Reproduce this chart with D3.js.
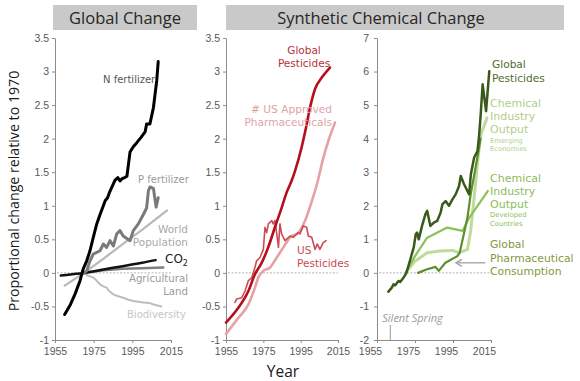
<!DOCTYPE html>
<html><head><meta charset="utf-8">
<script src="https://cdn.jsdelivr.net/npm/d3@7"></script>
<style>
body{margin:0;background:#fff;}
svg{display:block;}
text{font-family:"DejaVu Sans",sans-serif;}
</style></head>
<body><svg id="c" width="580" height="381"></svg>
<script>
// ---------- data ----------
const xTickYears = [1955, 1975, 1995, 2015];
const yTicksLeft = [-1, -0.5, 0, 0.5, 1, 1.5, 2, 2.5, 3, 3.5];
const yTicksRight = [-2, -1, 0, 1, 2, 3, 4, 5, 6, 7];
const panelTitles = ["Global Change", "Synthetic Chemical Change"];

// Global change panel: [year, proportional change]
const nFertilizer = [[1960,-0.62],[1963,-0.47],[1965.3,-0.32],[1967.9,-0.12],[1969.6,0.06],[1971.4,0.18],[1973.1,0.33],[1974.8,0.53],[1976.6,0.73],[1978.3,0.87],[1980,1.0],[1981,1.08],[1982.2,1.12],[1983.2,1.2],[1984.3,1.27],[1986,1.38],[1987.5,1.42],[1988.6,1.37],[1989.5,1.40],[1991,1.42],[1992.2,1.44],[1993.8,1.80],[1995.5,1.88],[1997.3,1.94],[1999.5,2.02],[2001.6,2.10],[2002.4,2.22],[2004.1,2.22],[2005.9,2.46],[2007.6,2.86],[2008.4,3.15]];
const pFertilizer = [[1970,0.0],[1971.4,0.03],[1973.1,0.18],[1974.8,0.28],[1978.3,0.33],[1980,0.43],[1981.7,0.38],[1983.5,0.48],[1985.2,0.40],[1986.9,0.58],[1988.6,0.63],[1990.3,0.55],[1993.8,0.48],[1995.5,0.63],[1998.1,0.73],[2000.7,0.87],[2002.4,0.97],[2003.3,1.22],[2004.1,1.28],[2005.9,1.26],[2007.3,0.98],[2008.4,1.12]];
const worldPopulation = [[1960,-0.19],[1970,0.0],[1980,0.21],[1990,0.43],[2000,0.64],[2013,0.93]];
const co2 = [[1958,-0.04],[1964,-0.02],[1970,0.0],[1980,0.05],[1990,0.1],[2000,0.15],[2007,0.19]];
const agriculturalLand = [[1970,0.0],[1980,0.04],[1990,0.06],[2000,0.07],[2011,0.08]];
const biodiversity = [[1970,0.0],[1972,-0.04],[1974.8,-0.07],[1976,-0.10],[1978.3,-0.17],[1980,-0.20],[1981.7,-0.22],[1983,-0.27],[1985.2,-0.32],[1987,-0.34],[1990.3,-0.37],[1993,-0.40],[1995.5,-0.42],[1998,-0.43],[2000.7,-0.44],[2004,-0.45],[2006,-0.47],[2010,-0.50]];

// Synthetic chemical change, middle panel
const globalPesticides = [[1955,-0.74],[1961.6,-0.52],[1967,-0.27],[1970.5,-0.02],[1974.1,0.15],[1977.6,0.38],[1981.2,0.68],[1984.8,0.97],[1987.5,1.20],[1990.1,1.37],[1992,1.52],[1995.5,1.87],[1997.9,2.17],[2000,2.46],[2002.7,2.74],[2006.3,2.91],[2010.7,3.06]];
const usApprovedPharma = [[1955,-0.91],[1961.6,-0.67],[1967,-0.47],[1970.5,-0.22],[1972.3,-0.07],[1975,0.03],[1978.6,0.08],[1982.2,0.23],[1985.7,0.38],[1989.3,0.53],[1993.8,0.60],[1997.4,0.78],[2001,1.07],[2004,1.35],[2007,1.70],[2010,1.98],[2013.4,2.24]];
const usPesticides = [[1959.8,-0.44],[1960.7,-0.39],[1963.4,-0.37],[1965.2,-0.27],[1966.9,-0.12],[1968.8,-0.07],[1970.5,0.08],[1971.4,0.18],[1973.2,0.23],[1975,0.35],[1975.9,0.68],[1976.8,0.60],[1977.7,0.73],[1979.5,0.78],[1980.3,0.73],[1981.2,0.78],[1982.2,0.58],[1983.1,0.38],[1983.9,0.73],[1984.8,0.58],[1986.6,0.48],[1989.3,0.55],[1991,0.53],[1993.7,0.60],[1994.6,0.58],[1996.4,0.70],[1998.2,0.68],[1999.1,0.55],[2000.9,0.53],[2002.7,0.35],[2003.9,0.43],[2005.3,0.35],[2007.1,0.45],[2008.6,0.48]];

// Synthetic chemical change, right panel
const globalPesticidesR = [[1961,-0.56],[1962.8,-0.44],[1963.7,-0.34],[1964.6,-0.37],[1966.3,-0.24],[1967.2,-0.27],[1969,-0.14],[1970.5,0.0],[1972.5,0.4],[1974.3,0.75],[1975.4,1.15],[1976.1,1.2],[1977,1.0],[1978.7,1.4],[1980.5,1.75],[1981.4,1.85],[1983.1,1.4],[1984.9,1.5],[1986.7,1.55],[1988.5,1.8],[1989.4,2.04],[1991.1,2.14],[1992.9,2.0],[1994.7,2.19],[1996.4,2.34],[1998.2,2.59],[1999.1,2.89],[2000.8,2.64],[2003.5,2.34],[2004.4,2.94],[2006.1,3.43],[2007.9,3.63],[2008.8,4.13],[2009.7,4.82],[2010.6,5.62],[2012.4,4.82],[2014.1,6.01]];
const chemOutputEmerging = [[1970,0.0],[1975,0.35],[1981.4,0.6],[1988,0.65],[1994.7,0.67],[1998.2,0.6],[2002.6,0.7],[2004.3,1.25],[2006.1,2.24],[2008,3.33],[2009.7,4.13],[2012.9,4.62]];
const chemOutputDeveloped = [[1970,0.0],[1975,0.5],[1981.4,1.05],[1992,1.35],[2000,1.25],[2003.5,1.64],[2013.3,2.44]];
const pharmaConsumption = [[1976.6,0.0],[1981,0.1],[1985.8,0.18],[1987.5,0.06],[1991,0.3],[1997.3,0.5],[1998.5,0.6],[1999.9,0.95],[2002.6,1.64],[2004.3,2.34],[2006.1,2.9],[2008,3.5],[2009.5,4.0]];
const silentSpringYear = 1962;

// ---------- drawing ----------
const svg = d3.select("#c");
const axisColor = "#8c8c8c", tickText = "#595959";

const yL = d3.scaleLinear().domain([-1, 3.5]).range([340, 38]);
const yR = d3.scaleLinear().domain([-2, 7]).range([340, 38]);
const xL = d3.scaleLinear().domain([1955, 2015]).range([55, 171]);
const xM = d3.scaleLinear().domain([1955, 2015]).range([226, 338]);
const xR = d3.scaleLinear().domain([1955, 2015]).range([377, 491]);

// panel title boxes
svg.append("rect").attr("x",53).attr("y",5).attr("width",144).attr("height",25).attr("fill","#c9c9c9");
svg.append("rect").attr("x",226).attr("y",5).attr("width",338).attr("height",25).attr("fill","#c9c9c9");
svg.append("text").attr("x",125).attr("y",24).attr("text-anchor","middle")
  .style("font-family","'Open Sans',sans-serif").style("font-size","16.5px").attr("fill","#262626").text(panelTitles[0]);
svg.append("text").attr("x",381).attr("y",24).attr("text-anchor","middle")
  .style("font-family","'Open Sans',sans-serif").style("font-size","16.5px").attr("fill","#262626").text(panelTitles[1]);

function drawAxes(x, y, yTicks, pad, labelShift) {
  const gy = svg.append("g").attr("transform", `translate(${x.range()[0]},0)`)
    .call(d3.axisLeft(y).tickValues(yTicks).tickFormat(d => String(d)).tickSize(3).tickSizeOuter(0).tickPadding(pad));
  const gx = svg.append("g").attr("transform", `translate(0,${y.range()[0]})`)
    .call(d3.axisBottom(x).tickValues(xTickYears).tickFormat(d => String(d)).tickSize(3).tickSizeOuter(0).tickPadding(5));
  [gy, gx].forEach(g => {
    g.select(".domain").attr("stroke", axisColor);
    g.selectAll(".tick line").attr("stroke", axisColor);
    g.selectAll(".tick text").attr("fill", tickText).style("font-family","'Liberation Sans',Arial,sans-serif").style("font-size","10.5px");
  });
  gx.selectAll(".tick text").attr("dx", labelShift);
  // zero reference line
  svg.append("line").attr("x1", x.range()[0]+2).attr("x2", x.range()[1]).attr("y1", y(0)).attr("y2", y(0))
    .attr("stroke", "#b4b4b4").attr("stroke-width", 1).attr("stroke-dasharray", "2,1.5");
}
drawAxes(xL, yL, yTicksLeft, 3, 0);
drawAxes(xM, yL, yTicksLeft, 3, 0);
drawAxes(xR, yR, yTicksRight, 5, -7);

function drawLine(data, x, y, color, width, curve) {
  svg.append("path").datum(data)
    .attr("fill", "none").attr("stroke", color).attr("stroke-width", width)
    .attr("stroke-linejoin", "round").attr("stroke-linecap", "round")
    .attr("d", d3.line().x(d => x(d[0])).y(d => y(d[1])).curve(curve || d3.curveLinear));
}

// left panel
drawLine(biodiversity, xL, yL, "#bdbdbd", 2);
drawLine(worldPopulation, xL, yL, "#b8b8b8", 2.2);
drawLine(agriculturalLand, xL, yL, "#7f7f7f", 2.5);
drawLine(co2, xL, yL, "#111", 2.5, d3.curveMonotoneX);
drawLine(pFertilizer, xL, yL, "#7a7a7a", 3);
drawLine(nFertilizer, xL, yL, "#000", 3);

// middle panel
drawLine(usApprovedPharma, xM, yL, "#e6a1a3", 2.6, d3.curveMonotoneX);
drawLine(usPesticides, xM, yL, "#cc4a55", 1.6);
drawLine(globalPesticides, xM, yL, "#b50f1c", 2.6, d3.curveMonotoneX);

// right panel
drawLine(chemOutputEmerging, xR, yR, "#bddb9b", 3);
drawLine(chemOutputDeveloped, xR, yR, "#8cc05a", 2.2);
drawLine(pharmaConsumption, xR, yR, "#5e8f2c", 2.2);
drawLine(globalPesticidesR, xR, yR, "#3a5a1c", 2.5);

// Silent Spring marker
svg.append("line").attr("x1", xR(silentSpringYear)).attr("x2", xR(silentSpringYear))
  .attr("y1", yR(-1.55)).attr("y2", yR(-2)).attr("stroke", "#9a9a9a").attr("stroke-width", 1);
svg.append("text").attr("x", xR(silentSpringYear)-8).attr("y", 322)
  .style("font-family","'Open Sans',sans-serif").style("font-style","italic").style("font-size","11px")
  .attr("fill", "#9a9a9a").text("Silent Spring");

// arrow to pharmaceutical consumption
const ax1 = xR(2012), ax2 = xR(1996.5), ay = yR(0.3);
svg.append("line").attr("x1", ax1).attr("x2", ax2 + 2).attr("y1", ay).attr("y2", ay).attr("stroke", "#a0a0a0").attr("stroke-width", 1.3);
svg.append("path").attr("d", `M${ax2+6},${ay-3.5} L${ax2},${ay} L${ax2+6},${ay+3.5}`)
  .attr("fill", "none").attr("stroke", "#a0a0a0").attr("stroke-width", 1.3);

// labels
function label(lines, x, anchor, color, size) {
  lines.forEach(l => {
    svg.append("text").attr("x", x).attr("y", l[1]).attr("text-anchor", anchor)
      .attr("fill", color).style("font-size", (l[2] || size) + "px").text(l[0]);
  });
}
label([["N fertilizer",83]], 103, "start", "#555", 10);
label([["P fertilizer",183]], 138, "start", "#9a9a9a", 10);
label([["World",233],["Population",246]], 188, "end", "#a8a8a8", 10.5);
const co2t = svg.append("text").attr("x",165).attr("y",263).attr("fill","#1a1a1a").style("font-size","12px");
co2t.append("tspan").text("CO");
co2t.append("tspan").attr("dy",3).style("font-size","8px").text("2");
label([["Agricultural",282],["Land",294.5]], 188, "end", "#9a9a9a", 10.2);
label([["Biodiversity",318]], 127, "start", "#c6c6c6", 10);

label([["Global",54],["Pesticides",66.5]], 304, "middle", "#b4323c", 10.5);
label([["# US Approved",113],["Pharmaceuticals",126]], 332, "end", "#e0a3a5", 10.6);
label([["US",254],["Pesticides",266.5]], 297, "start", "#c94a55", 10.5);

label([["Global",68],["Pesticides",82]], 492, "start", "#4f6b2f", 10.6);
label([["Chemical",107],["Industry",120],["Output",133],["Emerging",142.5,6.8],["Economies",151,6.8]], 490, "start", "#aed08a", 11);
label([["Chemical",182],["Industry",195],["Output",208],["Developed",217,6.8],["Countries",226,6.8]], 490, "start", "#8cbd5a", 11);
label([["Global",248],["Pharmaceutical",261.5],["Consumption",274.5]], 490, "start", "#7f9a40", 10.8);

// axis titles
svg.append("text").attr("transform","translate(19,191) rotate(-90)").attr("text-anchor","middle")
  .style("font-family","'Open Sans',sans-serif").style("font-size","14.2px").attr("fill","#1a1a1a")
  .text("Proportional change relative to 1970");
svg.append("text").attr("x",283).attr("y",377).attr("text-anchor","middle")
  .style("font-family","'Open Sans',sans-serif").style("font-size","15.5px").attr("fill","#1a1a1a").text("Year");
</script></body></html>
